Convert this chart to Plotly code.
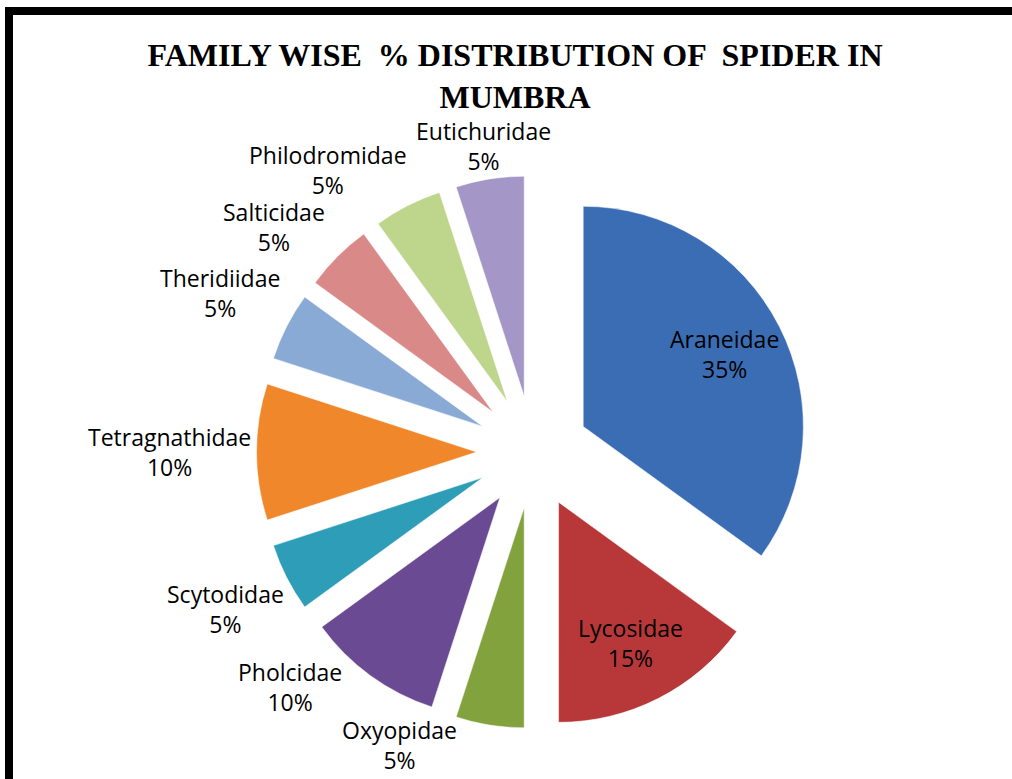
import math
import plotly.graph_objects as go

families = ["Araneidae", "Lycosidae", "Oxyopidae", "Pholcidae", "Scytodidae",
            "Tetragnathidae", "Theridiidae", "Salticidae", "Philodromidae", "Eutichuridae"]
percent = [35, 15, 5, 10, 5, 10, 5, 5, 5, 5]
colors = ["#3B6DB4", "#B8383A", "#82A23E", "#6A4B93", "#2E9DB8",
          "#F0872A", "#8AAAD6", "#D98A88", "#BDD68C", "#A596C8"]
label_inside = [True, True, False, False, False, False, False, False, False, False]

W, H = 1012, 779
cx, cy = 533, 452          # pie centre (px)
half = 276.5               # half of the pie domain box (px)
pull = 0.256
FONT = "Open Sans"
FS = 23

r = half / (1 + pull)      # slice radius
d = pull * r               # explode distance

fig = go.Figure(go.Pie(
    labels=families,
    values=percent,
    sort=False,
    direction="clockwise",
    rotation=0,
    pull=[pull] * len(families),
    marker=dict(colors=colors, line=dict(color="rgba(255,255,255,0.5)", width=1)),
    textinfo="none",
    domain=dict(x=[(cx - half) / W, (cx + half) / W],
                y=[1 - (cy + half) / H, 1 - (cy - half) / H]),
    showlegend=False,
    hoverinfo="label+percent",
))

# ---- data labels (angles derived from the values) ----
total = sum(percent)
mids = []
acc = 0
for v in percent:
    mids.append((acc + v / 2) / total * 360.0)
    acc += v

R0 = r + d + 3
R_CHK = R0 - 4
TOP, BOT = 118, 773
CH = 12.0   # approx px per character
B = 28      # half height of a two-line label


def place(theta, a, b):
    t = math.radians(theta)
    s, c = math.sin(t), math.cos(t)
    dist = R0 + a * abs(s) + b * abs(c)
    x = cx + dist * s
    y = cy - dist * c
    y = min(max(y, TOP + b), BOT - b)
    return x, y


def hits_disk(x, y, a, b):
    nx = min(max(cx, x - a), x + a)
    ny = min(max(cy, y - b), y + b)
    return math.hypot(nx - cx, ny - cy) < R_CHK


def overlap(b1, b2):
    return (abs(b1[0] - b2[0]) < (b1[2] + b2[2]) and
            abs(b1[1] - b2[1]) < (b1[3] + b2[3]))


positions = {}
placed = []
outside = [i for i in range(len(families)) if not label_inside[i]]
outside.sort(key=lambda i: -abs(math.cos(math.radians(mids[i]))))
for i in outside:
    a = len(families[i]) * CH / 2
    th = mids[i]
    s = math.sin(math.radians(th))
    target = 270.0 if s < 0 else 90.0
    step = 1.0 if target > th else -1.0
    for _ in range(120):
        x, y = place(th, a, B)
        box = (x, y, a, B)
        if not hits_disk(x, y, a, B) and not any(overlap(box, p) for p in placed):
            break
        th += step
    placed.append(box)
    positions[i] = (x, y)

for i in range(len(families)):
    if label_inside[i]:
        t = math.radians(mids[i])
        dist = d + 0.72 * r
        positions[i] = (cx + dist * math.sin(t), cy - dist * math.cos(t))

annotations = []
for i, name in enumerate(families):
    x, y = positions[i]
    annotations.append(dict(
        x=x / W, y=1 - y / H, xref="paper", yref="paper",
        text=f"{name}<br>{percent[i]}%", showarrow=False,
        xanchor="center", yanchor="middle", align="center",
        font=dict(family=FONT, size=FS, color="black"),
    ))

fig.update_layout(
    width=W, height=H,
    margin=dict(l=0, r=0, t=0, b=0, autoexpand=False),
    paper_bgcolor="white",
    title=dict(
        text="FAMILY WISE \u00a0% DISTRIBUTION OF \u00a0SPIDER IN<br>MUMBRA",
        x=515 / W, xanchor="center", xref="paper",
        y=1 - 66 / H, yanchor="middle", yref="paper",
        font=dict(family="Liberation Serif", size=32, color="black", weight="bold"),
    ),
    annotations=annotations,
    shapes=[dict(type="path", xref="paper", yref="paper",
                 path=f"M {9/W} -0.05 L {9/W} {1-11/H} L 1.05 {1-11/H}",
                 line=dict(color="black", width=8))],
)

fig.write_html("out.html")
